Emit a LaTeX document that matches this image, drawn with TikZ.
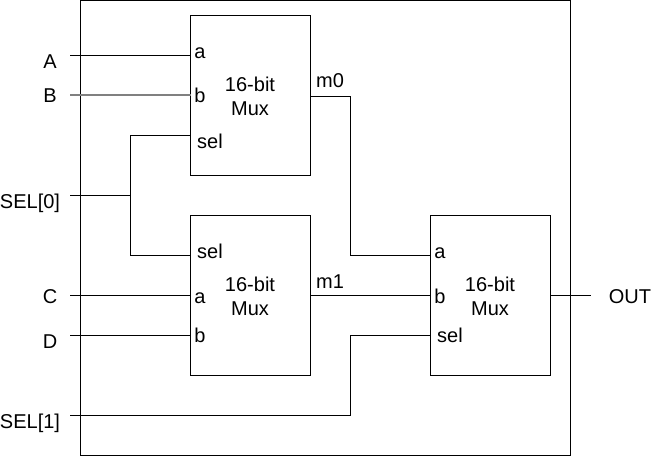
\documentclass[tikz,border=0pt]{standalone}
\usepackage{fontspec}
\setmainfont{Liberation Sans}
\begin{document}
\begin{tikzpicture}[x=0.75pt,y=-0.75pt,
  box/.style={draw=black,line width=0.75pt,inner sep=0pt,outer sep=0pt,anchor=north west,minimum width=90pt,minimum height=120pt},
  lbl/.style={inner sep=0pt,outer sep=0pt,anchor=base,font=\fontsize{15pt}{18pt}\selectfont},
  wire/.style={line width=0.75pt,draw=black},
  greywire/.style={line width=1.5pt,draw=black!50}]
\useasboundingbox (0,0) rectangle (661,456);
\fill[white] (0,0) rectangle (661,456);
\node[box,minimum width=367.5pt,minimum height=341.25pt] (outer) at (80.5,0.5) {};
\node[box] (m1) at (190.5,15.5) {};
\node[box] (m2) at (190.5,215.5) {};
\node[box] (m3) at (430.5,215.5) {};
\node[lbl,align=center] (t1) at (250,116) {16-bit\\Mux};
\node[lbl,align=center] (t2) at (250,315.5) {16-bit\\Mux};
\node[lbl,align=center] (t3) at (490,315.5) {16-bit\\Mux};
\foreach \n/\t/\x/\y in {la/A/50/68.7,lb/B/50/103,ls0/SEL[0]/30/208.7,lc/C/50/303,ld/D/50/348.7,ls1/SEL[1]/30/428.7,lo/OUT/630/303,
 pa/a/200/59,pb/b/200/103,ps/sel/210/148.7,
 qs/sel/210/258,qa/a/200/303,qb/b/200/343,
 ra/a/440/258,rb/b/440/303,rs/sel/450/343,
 m0l/m0/330/88,m1l/m1/330/288}
  \node[lbl] (\n) at (\x,\y) {\t};
\coordinate (ia) at (70,55.5);
\coordinate (ib) at (70,95);
\coordinate (is0) at (70,195.5);
\coordinate (ic) at (70,295.5);
\coordinate (id) at (70,335.5);
\coordinate (is1) at (70,415.5);
\coordinate (io) at (590.5,295.5);
\coordinate (j) at (130.5,195.5);
\coordinate (e1) at ([yshift=-0.4pt]m1.east);
\draw[wire] (ia) -- (ia -| m1.west);
\draw[greywire] (ib) -- (ib -| m1.west);
\draw[wire] (is0) -- (j);
\draw[wire] (j) |- (m1.west |- 0,135.5);
\draw[wire] (j) |- (m2.west |- 0,255.5);
\draw[wire] (ic) -- (ic -| m2.west);
\draw[wire] (id) -- (id -| m2.west);
\draw[wire] (is1) -- (350.5,415.5) |- (m3.west |- 0,335.5);
\draw[wire] (e1) -- (e1 -| 350.5,0) |- (m3.west |- 0,255.5);
\draw[wire] (m2.east) -- (m3.west);
\draw[wire] (m3.east) -- (io);
\end{tikzpicture}
\end{document}
